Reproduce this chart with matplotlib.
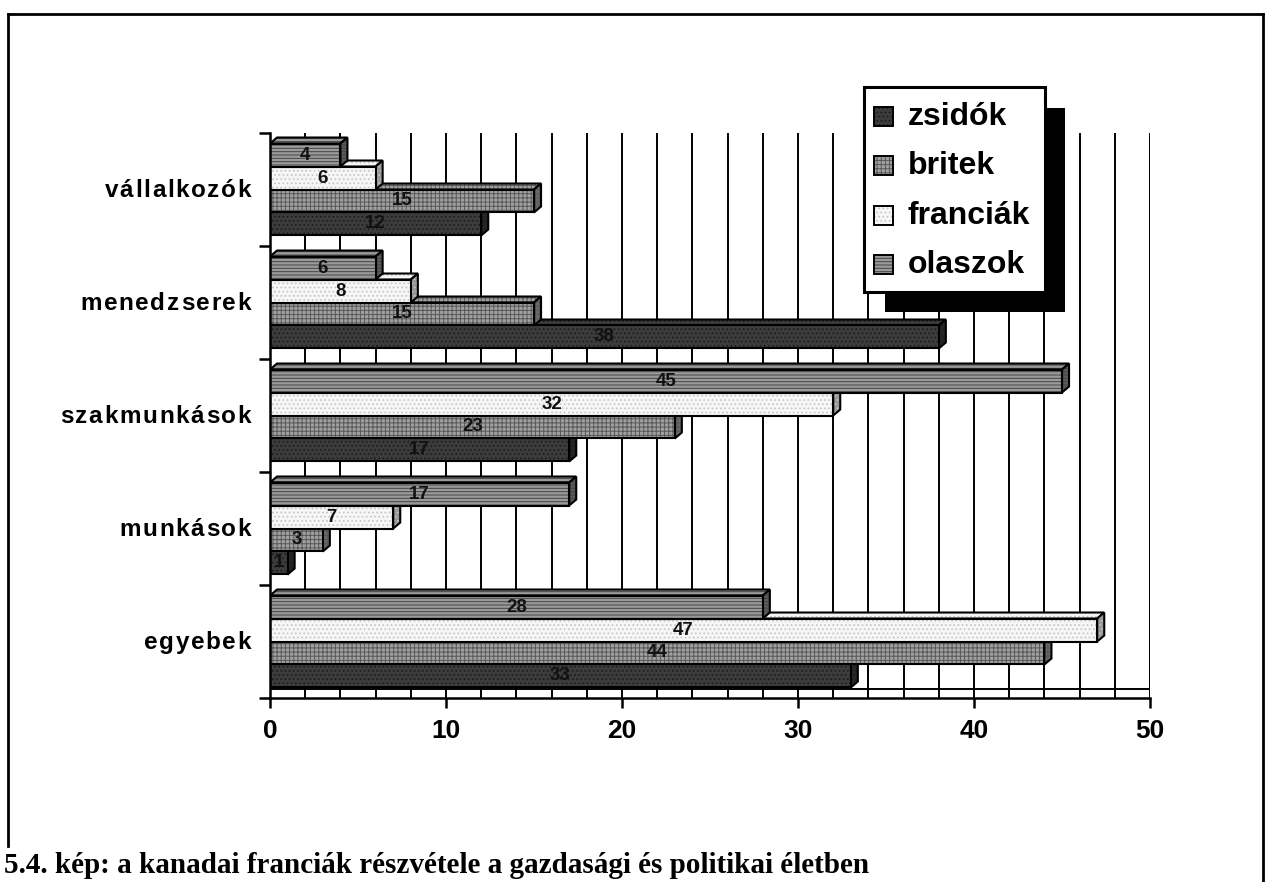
import matplotlib
matplotlib.use("Agg")
import matplotlib.pyplot as plt
from matplotlib.patches import Rectangle, Polygon
from matplotlib.font_manager import FontProperties
from matplotlib.textpath import TextToPath

categories = ["vállalkozók", "menedzserek", "szakmunkások", "munkások", "egyebek"]
series = ["zsidók", "britek", "franciák", "olaszok"]
zsidok = [12, 38, 17, 1, 33]
britek = [15, 15, 23, 3, 44]
franciak = [6, 8, 32, 7, 47]
olaszok = [4, 6, 45, 17, 28]
x_ticks = [0, 10, 20, 30, 40, 50]
caption = "5.4. kép: a kanadai franciák részvétele a gazdasági és politikai életben"

# face, hatch colour, hatch, side face
styles = [
    ("#3c3c3c", "#1c1c1c", "....", "#262626"),
    ("#a0a0a0", "#585858", "++++", "#6a6a6a"),
    ("#f6f6f6", "#c4c4c4", "....", "#9a9a9a"),
    ("#9a9a9a", "#444444", "-----", "#5a5a5a"),
]

plt.rcParams["font.family"] = ["Liberation Sans", "DejaVu Sans"]
plt.rcParams["hatch.linewidth"] = 0.7

W, H = 1266, 882
fig = plt.figure(figsize=(W / 100, H / 100), dpi=100)
ax = fig.add_axes([270 / W, 1 - 698 / H, 880 / W, 565 / H])
ax.set_xlim(0, 50)
ax.set_ylim(-0.5, 4.5)

# back wall grid and floor
for gx in range(2, 51, 2):
    ax.axvline(gx, color="black", lw=1.4, zorder=0)
ax.axhline(-0.5 + 9 / 113, color="black", lw=1.4, zorder=0)

bh = 0.2035
dx, dy = 0.4, 0.053
values = [zsidok, britek, franciak, olaszok]
n = len(categories)
for k in range(n):
    yc = n - 1 - k
    for j, vals in enumerate(values):
        v = vals[k]
        face, hcol, hatch, side = styles[j]
        y0 = yc + (j - 2) * bh
        y1 = y0 + bh
        z = 2 + j
        top = [(0, y1), (v, y1), (v + dx, y1 + dy), (dx, y1 + dy)]
        right = [(v, y0), (v + dx, y0 + dy), (v + dx, y1 + dy), (v, y1)]
        for pts, fc in ((top, face), (right, side)):
            ax.add_patch(Polygon(pts, closed=True, facecolor=fc, edgecolor=hcol,
                                 hatch=hatch, lw=0, zorder=z))
            ax.add_patch(Polygon(pts, closed=True, fill=False, edgecolor="black",
                                 lw=1.5, zorder=z))
        ax.add_patch(Rectangle((0, y0), v, bh, facecolor=face, edgecolor=hcol,
                               hatch=hatch, lw=0, zorder=z))
        ax.add_patch(Rectangle((0, y0), v, bh, fill=False, edgecolor="black",
                               lw=1.5, zorder=z))
        ax.text(v / 2, y0 + bh / 2, str(v), ha="center", va="center",
                fontsize=13.5, fontweight="bold", color="#111111", zorder=10)

for s in ("top", "right"):
    ax.spines[s].set_visible(False)
for s in ("left", "bottom"):
    ax.spines[s].set_linewidth(1.8)
    ax.spines[s].set_zorder(20)

ax.set_xticks(x_ticks)
ax.set_xticklabels([str(t) for t in x_ticks], fontsize=19, fontweight="bold")
ax.tick_params(axis="x", length=7, width=1.8, pad=8)
ax.set_yticks([b - 0.5 for b in range(n + 1)])
ax.set_yticklabels([])
ax.tick_params(axis="y", length=8, width=1.8)

# category labels with letter spacing
prop = FontProperties(family="Liberation Sans", weight="bold", size=17.5)
ttp = TextToPath()
track = 1.2
for k, lab in enumerate(categories):
    yc = n - 1 - k
    widths = [ttp.get_text_width_height_descent(c, prop, ismath=False)[0] for c in lab]
    total = sum(widths) + track * (len(lab) - 1)
    off = -13.7 - total
    for c, w in zip(lab, widths):
        ax.annotate(c, xy=(0, yc), xycoords=ax.get_yaxis_transform(),
                    xytext=(off, -5.4), textcoords="offset points",
                    ha="left", va="baseline", fontproperties=prop,
                    annotation_clip=False)
        off += w + track

# overlay for frame, legend and caption (pixel coordinates)
ov = fig.add_axes([0, 0, 1, 1], zorder=30)
ov.set_xlim(0, W)
ov.set_ylim(H, 0)
ov.axis("off")
ov.patch.set_alpha(0)
ov.plot([8, 1263], [14, 14], color="black", lw=2)
ov.plot([8, 8], [14, 846], color="black", lw=2)
ov.plot([1263, 1263], [14, H], color="black", lw=2)

ov.add_patch(Rectangle((885, 108), 180, 204, facecolor="black", edgecolor="none"))
ov.add_patch(Rectangle((864, 87), 181, 205, facecolor="white", edgecolor="black", lw=2.2))
for j, name in enumerate(series):
    face, hcol, hatch, side = styles[j]
    cy = 117 + j * 49.3
    ov.add_patch(Rectangle((874, cy - 10), 19, 19, facecolor=face, edgecolor=hcol,
                           hatch=hatch, lw=0))
    ov.add_patch(Rectangle((874, cy - 10), 19, 19, fill=False, edgecolor="black", lw=1.4))
    ov.text(908, cy, name, ha="left", va="center", fontsize=23, fontweight="bold")

ov.text(4, 873, caption, ha="left", va="baseline", fontsize=21, fontweight="bold",
        family="Liberation Serif")

fig.savefig("out.png", dpi=100)
